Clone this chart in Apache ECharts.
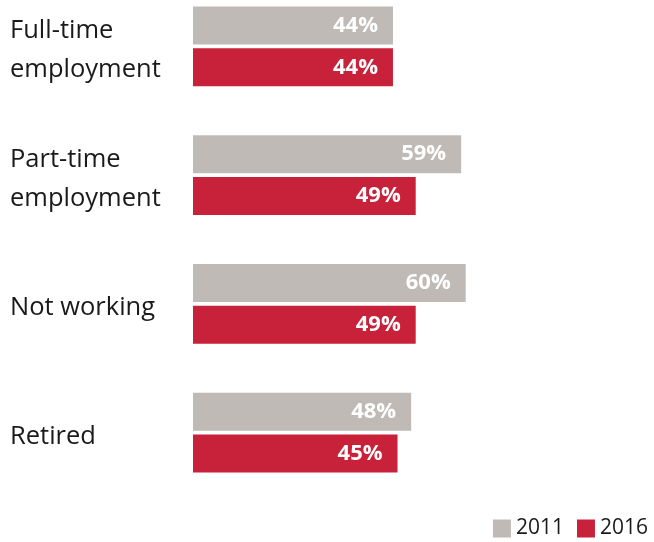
<!DOCTYPE html>
<html>
<head>
<meta charset="utf-8">
<script src="https://cdn.jsdelivr.net/npm/echarts@6/dist/echarts.min.js"></script>
<style>
  html, body { margin: 0; padding: 0; background: #ffffff; }
  #chart { width: 654px; height: 542px; }
</style>
</head>
<body>
<div id="chart"></div>
<script>
// Share of respondents by employment status, 2011 vs 2016
const categories = ['Full-time\nemployment', 'Part-time\nemployment', 'Not working', 'Retired'];
const values2011 = [44, 59, 60, 48];
const values2016 = [44, 49, 49, 45];
const seriesNames = ['2011', '2016'];

const FONT = '"Open Sans", "Noto Sans", sans-serif';
const GREY = '#bfbab6';
const RED = '#c8223a';

const chart = echarts.init(document.getElementById('chart'));

const valueLabel = {
  show: true,
  position: 'insideRight',
  distance: 15,
  color: '#ffffff',
  fontFamily: FONT,
  fontWeight: 'bold',
  fontSize: 22,
  formatter: p => p.value + '%'
};

chart.setOption({
  animation: false,
  // categories sit on the grid edges (boundaryGap: false), so top/bottom mark the first/last group centres
  grid: { left: 193, right: 6.5, top: 46.4, bottom: 109.4, containLabel: false },
  xAxis: {
    type: 'value',
    min: 0,
    max: 100,
    show: false
  },
  yAxis: {
    type: 'category',
    data: categories,
    inverse: true,
    boundaryGap: false,
    axisLine: { show: false },
    axisTick: { show: false },
    splitLine: { show: false },
    axisLabel: {
      align: 'left',
      margin: 183,
      color: '#1a1a1a',
      fontFamily: FONT,
      fontSize: 25.5,
      lineHeight: 39,
      // a thin empty first line nudges each label slightly below its group centre
      formatter: v => '{pad|}\n' + v,
      rich: { pad: { height: 8, lineHeight: 8, fontSize: 1 } }
    }
  },
  legend: {
    data: seriesNames,
    right: 1,
    bottom: -2,
    itemWidth: 18,
    itemHeight: 18,
    itemGap: 13,
    icon: 'rect',
    textStyle: { color: '#1a1a1a', fontFamily: FONT, fontSize: 21 }
  },
  series: [
    {
      name: seriesNames[0],
      type: 'bar',
      data: values2011,
      barWidth: 38,
      barGap: '10%',
      itemStyle: { color: GREY },
      label: valueLabel
    },
    {
      name: seriesNames[1],
      type: 'bar',
      data: values2016,
      barWidth: 38,
      itemStyle: { color: RED },
      label: valueLabel
    }
  ]
});
</script>
</body>
</html>
